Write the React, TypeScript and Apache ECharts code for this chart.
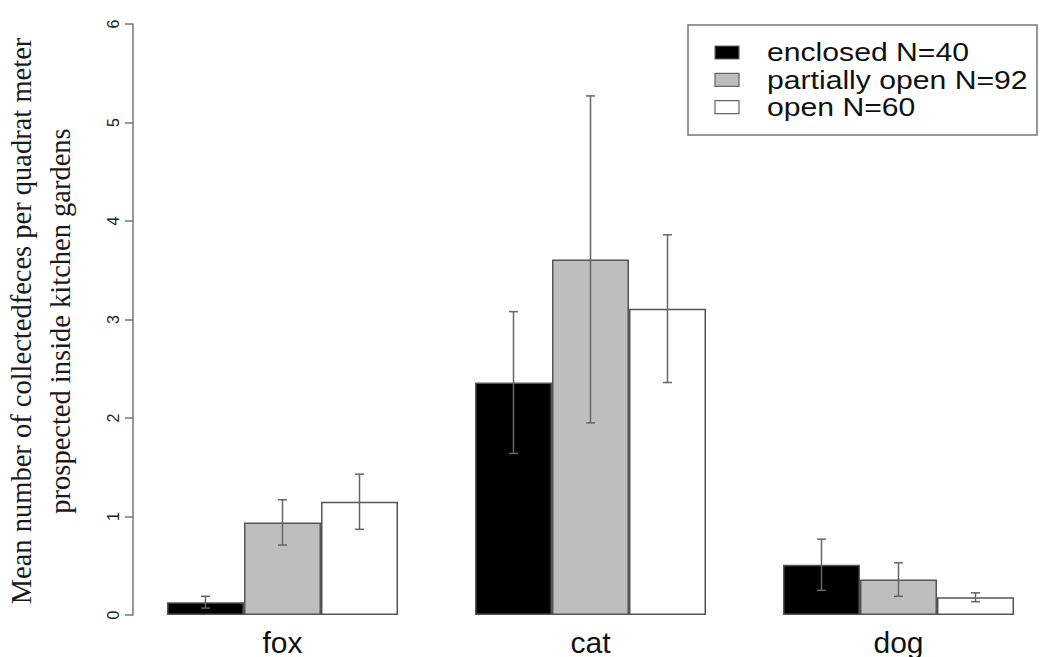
import React, { useEffect, useRef } from "react";
import * as echarts from "echarts";

const categories = ["fox", "cat", "dog"];
const groupNames = ["enclosed N=40", "partially open N=92", "open N=60"];
const enclosedMeans = [0.13, 2.36, 0.51];
const enclosedErr = [0.06, 0.72, 0.26];
const partialMeans = [0.94, 3.61, 0.36];
const partialErr = [0.23, 1.66, 0.17];
const openMeans = [1.15, 3.11, 0.18];
const openErr = [0.28, 0.75, 0.045];
const yTicks = [0, 1, 2, 3, 4, 5, 6];

const fills = ["#000000", "#bebebe", "#ffffff"];
const means = [enclosedMeans, partialMeans, openMeans];
const errs = [enclosedErr, partialErr, openErr];

export default function App() {
  const ref = useRef<HTMLDivElement>(null);
  useEffect(() => {
    if (!ref.current) return;
    const chart = echarts.init(ref.current, null, { renderer: "svg" });

    const barSeries = means.map((m, i) => ({
      type: "bar",
      name: groupNames[i],
      data: m,
      barGap: "0%",
      barCategoryGap: "25%",
      itemStyle: { color: fills[i], borderColor: "#555", borderWidth: 1.5 },
      z: 2,
    }));

    const errSeries = means.map((m, i) => ({
      type: "custom",
      name: groupNames[i] + " err",
      data: m.map((v, k) => [k, v - errs[i][k], v + errs[i][k]]),
      encode: { x: 0, y: [1, 2] },
      z: 5,
      renderItem: (params: any, api: any) => {
        const band = api.size([1, 0])[0];
        const dx = (i - 1) * band * 0.25;
        const lo = api.coord([api.value(0), api.value(1)]);
        const hi = api.coord([api.value(0), api.value(2)]);
        const x = lo[0] + dx;
        const cap = 4.5;
        const style = { stroke: "#666", lineWidth: 1.5 };
        return {
          type: "group",
          children: [
            { type: "line", shape: { x1: x, y1: lo[1], x2: x, y2: hi[1] }, style },
            { type: "line", shape: { x1: x - cap, y1: lo[1], x2: x + cap, y2: lo[1] }, style },
            { type: "line", shape: { x1: x - cap, y1: hi[1], x2: x + cap, y2: hi[1] }, style },
          ],
        };
      },
    }));

    const legendTop = [46, 73.3, 100.7];
    const legendGraphics: any[] = [
      {
        type: "rect",
        shape: { x: 688, y: 25, width: 349, height: 110 },
        style: { fill: "#fff", stroke: "#777", lineWidth: 1.5 },
        z: 10,
      },
    ];
    groupNames.forEach((g, i) => {
      legendGraphics.push({
        type: "rect",
        shape: { x: 715, y: legendTop[i], width: 24, height: 13 },
        style: { fill: fills[i], stroke: "#666", lineWidth: 1.2 },
        z: 11,
      });
      legendGraphics.push({
        type: "text",
        x: 767,
        y: legendTop[i] + 6.5,
        scaleX: 1.16,
        style: {
          text: g,
          font: "26px 'Liberation Sans', Arial, sans-serif",
          fill: "#111",
          verticalAlign: "middle",
        },
        z: 11,
      });
    });

    chart.setOption({
      animation: false,
      backgroundColor: "#fff",
      grid: { left: 128.5, top: 24, width: 924, bottom: 40 },
      xAxis: {
        type: "category",
        data: categories,
        axisLine: { show: false },
        axisTick: { show: false },
        axisLabel: {
          fontSize: 30,
          color: "#111",
          fontFamily: "'Liberation Sans', Arial, sans-serif",
          margin: 12,
        },
      },
      yAxis: {
        type: "value",
        min: yTicks[0],
        max: yTicks[yTicks.length - 1],
        interval: 1,
        offset: -4.5,
        splitLine: { show: false },
        axisLine: { show: true, lineStyle: { color: "#777", width: 1.5 } },
        axisTick: { show: true, length: 8, lineStyle: { color: "#777", width: 1.5 } },
        axisLabel: {
          rotate: 90,
          fontSize: 16,
          color: "#222",
          fontFamily: "'Liberation Sans', Arial, sans-serif",
          margin: 12,
        },
      },
      graphic: [
        {
          type: "text",
          x: 41,
          y: 321,
          rotation: Math.PI / 2,
          style: {
            text: "Mean number of collectedfeces per quadrat meter\nprospected inside kitchen gardens",
            font: "28.5px 'Liberation Serif', 'Times New Roman', serif",
            fill: "#1a1a1a",
            align: "center",
            verticalAlign: "middle",
            lineHeight: 39,
          },
        },
        ...legendGraphics,
      ],
      series: [...barSeries, ...errSeries],
    });

    return () => chart.dispose();
  }, []);

  return (
    <div style={{ position: "absolute", left: 0, top: 0, width: 1043, height: 657, overflow: "hidden" }}>
      <div ref={ref} style={{ width: 1080, height: 657 }} />
    </div>
  );
}
